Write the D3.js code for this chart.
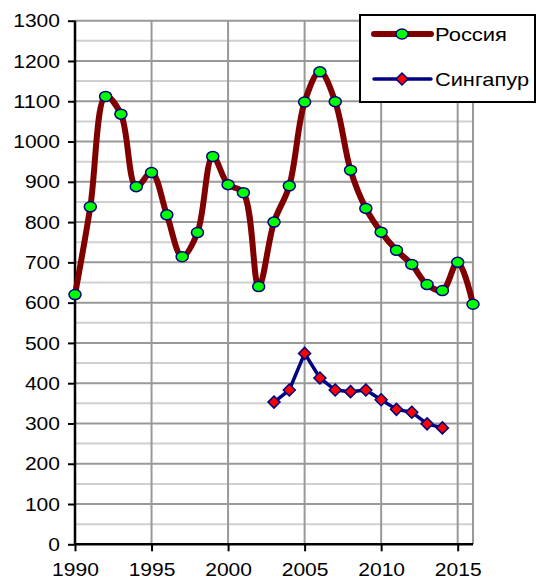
<!DOCTYPE html>
<html><head><meta charset="utf-8">
<script src="https://cdn.jsdelivr.net/npm/d3@7"></script>
<style>body{margin:0;background:#fff}svg{display:block}</style>
</head><body>
<svg id="c" width="536" height="581"></svg>
<script>
const years = [1990,1991,1992,1993,1994,1995,1996,1997,1998,1999,2000,2001,2002,2003,2004,2005,2006,2007,2008,2009,2010,2011,2012,2013,2014,2015,2016];
const russia = [620,838,1112,1068,888,923,818,714,774,963,893,873,640,800,890,1098,1173,1099,929,834,775,730,695,645,630,700,596];
const singaporeYears = [2003,2004,2005,2006,2007,2008,2009,2010,2011,2012,2013,2014];
const singapore = [353,383,474,413,383,379,383,359,335,328,299,289];
const seriesNames = ["Россия","Сингапур"];
const xTicks = [1990,1995,2000,2005,2010,2015];
const yTicks = [0,100,200,300,400,500,600,700,800,900,1000,1100,1200,1300];

const svg = d3.select("#c");
const L=75, R=473, T=20.7, B=544.3;
const x = d3.scaleLinear().domain([1990,2016]).range([L,R]);
const y = d3.scaleLinear().domain([0,1300]).range([B,T]);
const font = "'Liberation Sans', Arial, sans-serif";

// minor gridlines
const minor = d3.range(50,1300,100);
svg.append("g").selectAll("line").data(minor).join("line")
  .attr("x1",L).attr("x2",R).attr("y1",d=>y(d)).attr("y2",d=>y(d))
  .attr("stroke","#d0d0d0").attr("stroke-width",2);
// major gridlines
svg.append("g").selectAll("line").data(yTicks.filter(d=>d>0)).join("line")
  .attr("x1",L).attr("x2",R).attr("y1",d=>y(d)).attr("y2",d=>y(d))
  .attr("stroke","#999").attr("stroke-width",2);
svg.append("g").selectAll("line").data(xTicks.filter(d=>d>1990).concat([2016])).join("line")
  .attr("x1",d=>x(d)).attr("x2",d=>x(d)).attr("y1",T).attr("y2",B)
  .attr("stroke","#999").attr("stroke-width",2);

// axes
const yAxis = d3.axisLeft(y).tickValues(yTicks).tickSize(7).tickPadding(8).tickFormat(d3.format("d"));
const gy = svg.append("g").attr("transform",`translate(${L},0)`).call(yAxis);
const xAxis = d3.axisBottom(x).tickValues(xTicks).tickSize(7).tickPadding(11).tickFormat(d3.format("d"));
const gx = svg.append("g").attr("transform",`translate(0,${B})`).call(xAxis);
[gy,gx].forEach(g=>{
  g.select(".domain").attr("stroke","#000").attr("stroke-width",2.5);
  g.selectAll(".tick line").attr("stroke","#000").attr("stroke-width",2);
  g.selectAll("text").attr("font-family",font).attr("font-size",19).attr("fill","#000")
    .attr("textLength",function(){return this.textContent.length*11.7;})
    .attr("lengthAdjust","spacingAndGlyphs");
});
gx.select(".domain").attr("d",`M${L},0H${R}`);
gy.select(".domain").attr("d",`M0,${T}V${B}`);

// Russia line
const rData = years.map((yr,i)=>[yr,russia[i]]);
const sData = singaporeYears.map((yr,i)=>[yr,singapore[i]]);
const smooth = d3.line().x(d=>x(d[0])).y(d=>y(d[1])).curve(d3.curveCatmullRom.alpha(0.5));
const straight = d3.line().x(d=>x(d[0])).y(d=>y(d[1]));

svg.append("path").attr("d",straight(sData)).attr("fill","none")
  .attr("stroke","#000080").attr("stroke-width",3.5).attr("stroke-linejoin","round");
const diamond = "M0,-6L6,0L0,6L-6,0Z";
svg.append("g").selectAll("path").data(sData).join("path")
  .attr("d",diamond).attr("transform",d=>`translate(${x(d[0])},${y(d[1])})`)
  .attr("fill","#ff0000").attr("stroke","#000080").attr("stroke-width",1.5);

svg.append("path").attr("d",smooth(rData)).attr("fill","none")
  .attr("stroke","#800000").attr("stroke-width",6).attr("stroke-linejoin","round");
svg.append("g").selectAll("ellipse").data(rData).join("ellipse")
  .attr("cx",d=>x(d[0])).attr("cy",d=>y(d[1])).attr("rx",6).attr("ry",5)
  .attr("fill","#00ff00").attr("stroke","#000080").attr("stroke-width",1.5);

// legend
const lg = svg.append("g");
lg.append("rect").attr("x",360).attr("y",15).attr("width",175).attr("height",87)
  .attr("fill","#fff").attr("stroke","#000").attr("stroke-width",2);
lg.append("line").attr("x1",374).attr("x2",431).attr("y1",34).attr("y2",34)
  .attr("stroke","#800000").attr("stroke-width",6).attr("stroke-linecap","round");
lg.append("ellipse").attr("cx",402).attr("cy",34).attr("rx",6).attr("ry",5)
  .attr("fill","#00ff00").attr("stroke","#000080").attr("stroke-width",1.5);
lg.append("line").attr("x1",374).attr("x2",431).attr("y1",79).attr("y2",79)
  .attr("stroke","#000080").attr("stroke-width",3.5).attr("stroke-linecap","round");
lg.append("path").attr("d",diamond).attr("transform","translate(402,79)")
  .attr("fill","#ff0000").attr("stroke","#000080").attr("stroke-width",1.5);
lg.selectAll("text").data(seriesNames).join("text")
  .attr("x",435).attr("y",(d,i)=>[34,79][i]).attr("dy","0.35em")
  .attr("font-family",font).attr("font-size",19).attr("fill","#000")
  .attr("textLength",(d,i)=>[72,94][i]).attr("lengthAdjust","spacingAndGlyphs")
  .text(d=>d);
</script>
</body></html>
